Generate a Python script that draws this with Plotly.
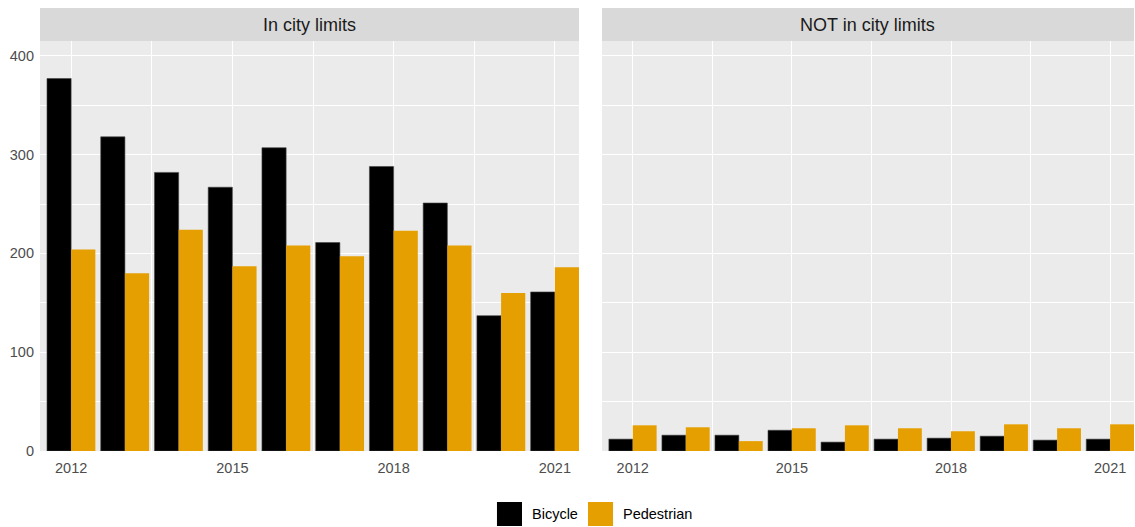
import plotly.graph_objects as go
from plotly.subplots import make_subplots

# data
years = [2012, 2013, 2014, 2015, 2016, 2017, 2018, 2019, 2020, 2021]
panels = ["In city limits", "NOT in city limits"]
bicycle_in = [377, 318, 282, 267, 307, 211, 288, 251, 137, 161]
pedestrian_in = [204, 180, 224, 187, 208, 197, 223, 208, 160, 186]
bicycle_out = [12, 16, 16, 21, 9, 12, 13, 15, 11, 12]
pedestrian_out = [26, 24, 10, 23, 26, 23, 20, 27, 23, 27]

x_ticks = [2012, 2015, 2018, 2021]
x_minor = [2013.5, 2016.5, 2019.5]
y_ticks = [0, 100, 200, 300, 400]
y_minor = [50, 150, 250, 350]

BIKE = "#000000"
PED = "#E69F00"
PANEL_BG = "#EBEBEB"
STRIP_BG = "#D9D9D9"
FONT = "Liberation Sans, Arial"

fig = make_subplots(rows=1, cols=2, shared_yaxes=True, horizontal_spacing=0.02)

series = [
    (1, bicycle_in, pedestrian_in),
    (2, bicycle_out, pedestrian_out),
]
for col, bik, ped in series:
    fig.add_trace(go.Bar(
        x=years, y=bik, name="Bicycle", offsetgroup="b",
        marker=dict(color=BIKE, line=dict(color="#444444", width=0.6)),
        showlegend=False, hovertemplate="%{x}: %{y}<extra>Bicycle</extra>",
    ), row=1, col=col)
    fig.add_trace(go.Bar(
        x=years, y=ped, name="Pedestrian", offsetgroup="p",
        marker=dict(color=PED, line=dict(width=0)),
        showlegend=False, hovertemplate="%{x}: %{y}<extra>Pedestrian</extra>",
    ), row=1, col=col)

# panel geometry (paper fractions)
left_dom = [0.0, 0.4927]
right_dom = [0.5137, 1.0]
y_top = 0.9255

axis_common = dict(
    range=[2011.42, 2021.45],
    tickvals=x_ticks,
    showgrid=True, gridcolor="white", gridwidth=1.1,
    minor=dict(tickvals=x_minor, showgrid=True, gridcolor="white", gridwidth=0.5),
    zeroline=False, ticks="", showline=False, ticklabelstandoff=6,
    tickfont=dict(family=FONT, size=14.5, color="#4D4D4D"),
)
fig.update_xaxes(**axis_common)
fig.update_xaxes(domain=left_dom, row=1, col=1)
fig.update_xaxes(domain=right_dom, row=1, col=2)

fig.update_yaxes(
    range=[0, 415], tickvals=y_ticks, domain=[0, y_top],
    showgrid=True, gridcolor="white", gridwidth=1.1,
    minor=dict(tickvals=y_minor, showgrid=True, gridcolor="white", gridwidth=0.5),
    zeroline=False, ticks="", showline=False, ticklabelstandoff=5,
    tickfont=dict(family=FONT, size=14.5, color="#4D4D4D"),
)
fig.update_yaxes(showticklabels=False, row=1, col=2)

# grey panel backgrounds and facet strips
for dom, label in [(left_dom, panels[0]), (right_dom, panels[1])]:
    fig.add_shape(type="rect", xref="paper", yref="paper",
                  x0=dom[0], x1=dom[1], y0=0, y1=y_top,
                  fillcolor=PANEL_BG, line=dict(width=0), layer="below")
    fig.add_shape(type="rect", xref="paper", yref="paper",
                  x0=dom[0], x1=dom[1], y0=y_top, y1=1.0,
                  fillcolor=STRIP_BG, line=dict(width=0), layer="below")
    fig.add_annotation(x=(dom[0] + dom[1]) / 2, y=(y_top + 1) / 2,
                       xref="paper", yref="paper", text=label, showarrow=False,
                       font=dict(family=FONT, size=18, color="#1A1A1A"),
                       xanchor="center", yanchor="middle")

# ggplot-style legend with large square keys, below the panels
legend_items = [("Bicycle", BIKE, 0.4177), ("Pedestrian", PED, 0.5009)]
key_w = 0.0229
for name, c, x0 in legend_items:
    fig.add_shape(type="rect", xref="paper", yref="paper",
                  x0=x0, x1=x0 + key_w, y0=-0.1693, y1=-0.1151,
                  fillcolor=c, line=dict(width=0))
    fig.add_annotation(x=x0 + key_w + 0.0075, y=-0.1422, xref="paper", yref="paper",
                       text=name, showarrow=False, xanchor="left", yanchor="middle",
                       font=dict(family=FONT, size=14.5, color="#000000"))

fig.update_layout(
    width=1135, height=527,
    barmode="group", bargap=0.1, bargroupgap=0,
    paper_bgcolor="white", plot_bgcolor="rgba(0,0,0,0)",
    margin=dict(l=40, r=1, t=8, b=76),
    showlegend=False,
    font=dict(family=FONT),
)

fig.write_html("out.html", config={"displayModeBar": False},
               post_script="document.body.style.margin='0px';")
